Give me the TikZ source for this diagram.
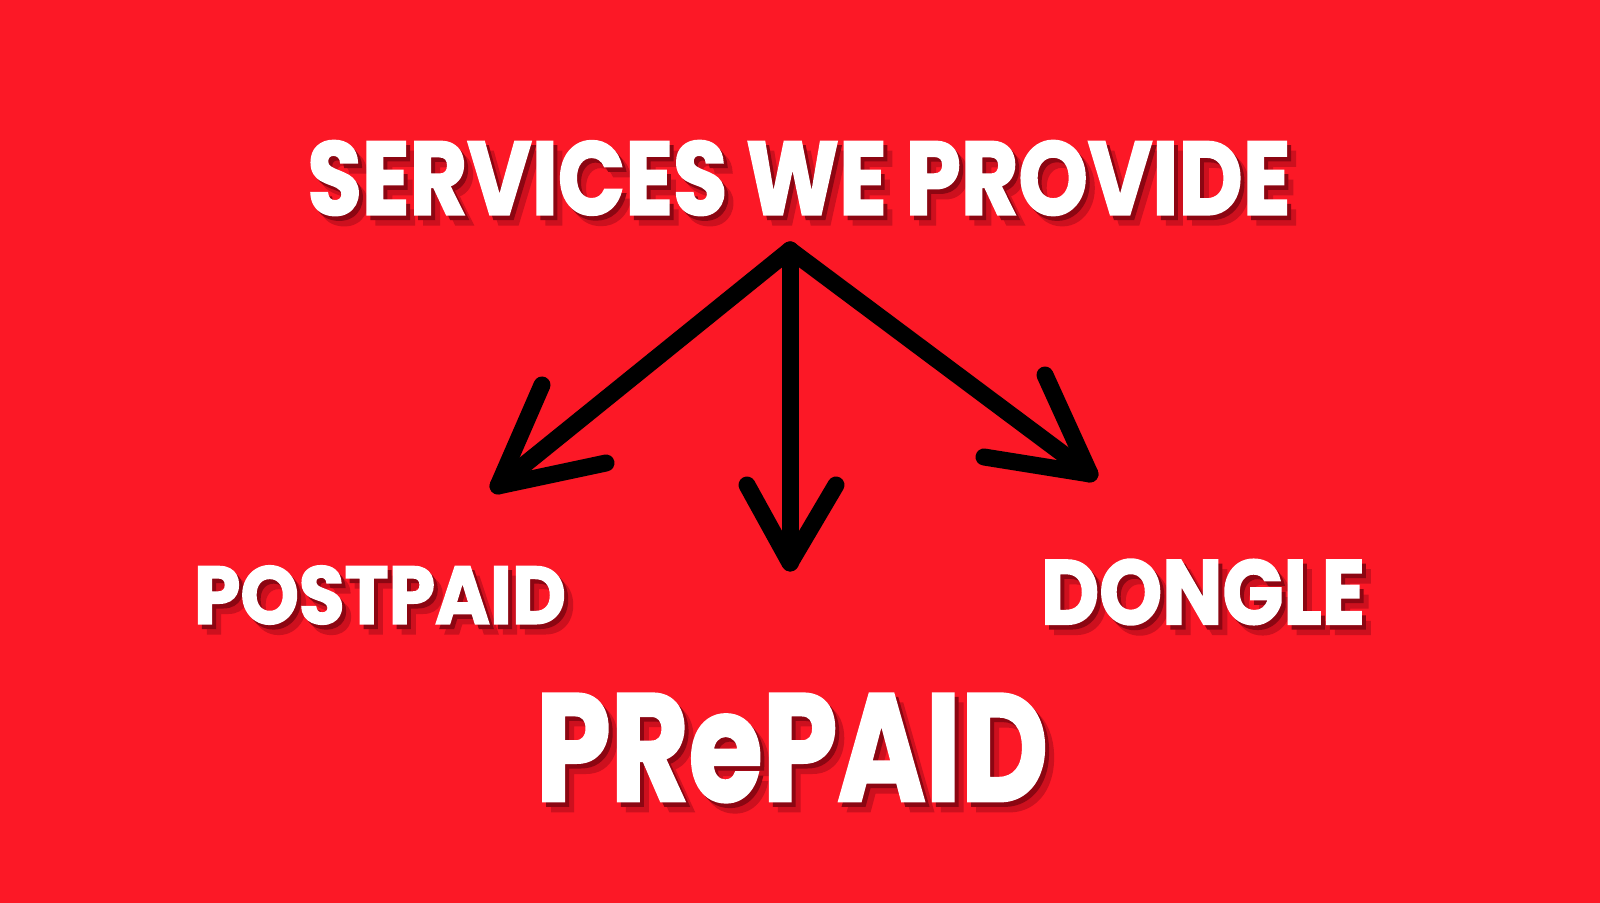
\documentclass[tikz,border=0pt]{standalone}
\usepackage{fontspec}
\setmainfont{Poppins}[BoldFeatures={FakeBold=2}]
\definecolor{bgred}{RGB}{252,24,38}
\definecolor{shadowred}{RGB}{140,6,18}
\definecolor{shadowsoft}{RGB}{205,16,30}
\newcommand{\fittext}[3]{\resizebox{#1}{#2}{\bfseries #3}}
\newcommand{\dropshadow}[1]{%
  \rlap{\smash{\raisebox{-1mm}{\kern0.9mm\textcolor{shadowsoft}{#1}}}}%
  \rlap{\smash{\raisebox{-0.45mm}{\kern0.4mm\textcolor{shadowred}{#1}}}}%
  #1}

\begin{document}
\begin{tikzpicture}[x=0.1mm, y=-0.1mm, label/.style={text=white, inner sep=0pt},
    stroke/.style={line width=1.7mm, line cap=round, line join=round}]
        \fill[bgred] (0,0) rectangle (1600,903);

        \node[label] (title) at (799,178) {\dropshadow{\fittext{98.3mm}{7.4mm}{SERVICES WE PROVIDE}}};
        \node[label] (postpaid) at (380,595) {\dropshadow{\fittext{37.2mm}{5.8mm}{POSTPAID}}};
        \node[label] (dongle) at (1203,592) {\dropshadow{\fittext{32.4mm}{6.5mm}{DONGLE}}};
        \node[label] (prepaid) at (792,748) {\dropshadow{\fittext{51.2mm}{10.7mm}{PRePAID}}};

        \coordinate (hub) at (790,250);
        \coordinate (tipL) at (498,486);
        \coordinate (tipM) at (790,563);
        \coordinate (tipR) at (1090,474);

        \draw[stroke] (hub) -- (tipL);
        \draw[stroke] (hub) -- (tipM);
        \draw[stroke] (hub) -- (tipR);

        % hand-drawn heads
        \draw[stroke] (542,385) -- (tipL) -- (606,463);
        \draw[stroke] (747,485) -- (tipM) -- (836,485);
        \draw[stroke] (1045,375) -- (tipR) -- (984,457);
    \end{tikzpicture}
\end{document}
